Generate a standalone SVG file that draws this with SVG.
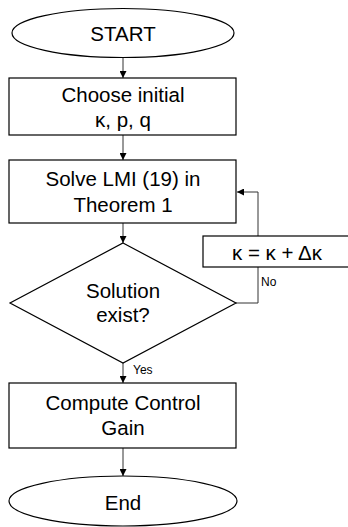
<svg xmlns="http://www.w3.org/2000/svg" width="348" height="527" viewBox="0 0 348 527">
<style>
.s{fill:#fff;stroke:#000;stroke-width:1.2}
.t{font-family:"Liberation Sans",Arial,sans-serif;font-size:20.5px;fill:#000;text-anchor:middle}
.l{font-family:"Liberation Sans",Arial,sans-serif;font-size:12px;fill:#000}
.c{fill:none;stroke:#333;stroke-width:1}
</style>
<defs>
<marker id="a" viewBox="0 0 10 10" refX="10" refY="5" markerWidth="7" markerHeight="7" orient="auto" markerUnits="userSpaceOnUse">
<path d="M0,0L10,5L0,10z" fill="#000"/>
</marker>
</defs>
<rect width="348" height="527" fill="#fff"/>
<g id="connectors">
<line class="c" x1="123" y1="57" x2="123" y2="78" marker-end="url(#a)"/>
<line class="c" x1="123" y1="135" x2="123" y2="160" marker-end="url(#a)"/>
<line class="c" x1="123" y1="223" x2="123" y2="243" marker-end="url(#a)"/>
<line class="c" x1="123" y1="363" x2="123" y2="383" marker-end="url(#a)"/>
<line class="c" x1="123" y1="448" x2="123" y2="476" marker-end="url(#a)"/>
<polyline class="c" points="236,303 258,303 258,267"/>
<polyline class="c" points="258,236 258,192 237,192" marker-end="url(#a)"/>
<text class="l" x="261" y="286">No</text>
<text class="l" x="133" y="374">Yes</text>
</g>
<g id="start">
<ellipse class="s" cx="123" cy="33" rx="111" ry="24.5"/>
<text class="t" x="123" y="41">START</text>
</g>
<g id="choose">
<rect class="s" x="9" y="78" width="227" height="57"/>
<text class="t" x="123" y="102">Choose initial</text>
<text class="t" x="123" y="127">κ, p, q</text>
</g>
<g id="solve">
<rect class="s" x="9" y="160" width="227" height="63"/>
<text class="t" x="123" y="186">Solve LMI (19) in</text>
<text class="t" x="123" y="212">Theorem 1</text>
</g>
<g id="update">
<rect class="s" x="203" y="236" width="150" height="31"/>
<text class="t" x="277" y="260">κ = κ + Δκ</text>
</g>
<g id="decision">
<polygon class="s" points="123,243 236,303 123,363 10,303"/>
<text class="t" x="123" y="298">Solution</text>
<text class="t" x="123" y="322">exist?</text>
</g>
<g id="compute">
<rect class="s" x="9" y="383" width="227" height="65"/>
<text class="t" x="123" y="410">Compute Control</text>
<text class="t" x="123" y="435">Gain</text>
</g>
<g id="end">
<ellipse class="s" cx="123" cy="501" rx="114" ry="25"/>
<text class="t" x="123" y="510">End</text>
</g>
</svg>
